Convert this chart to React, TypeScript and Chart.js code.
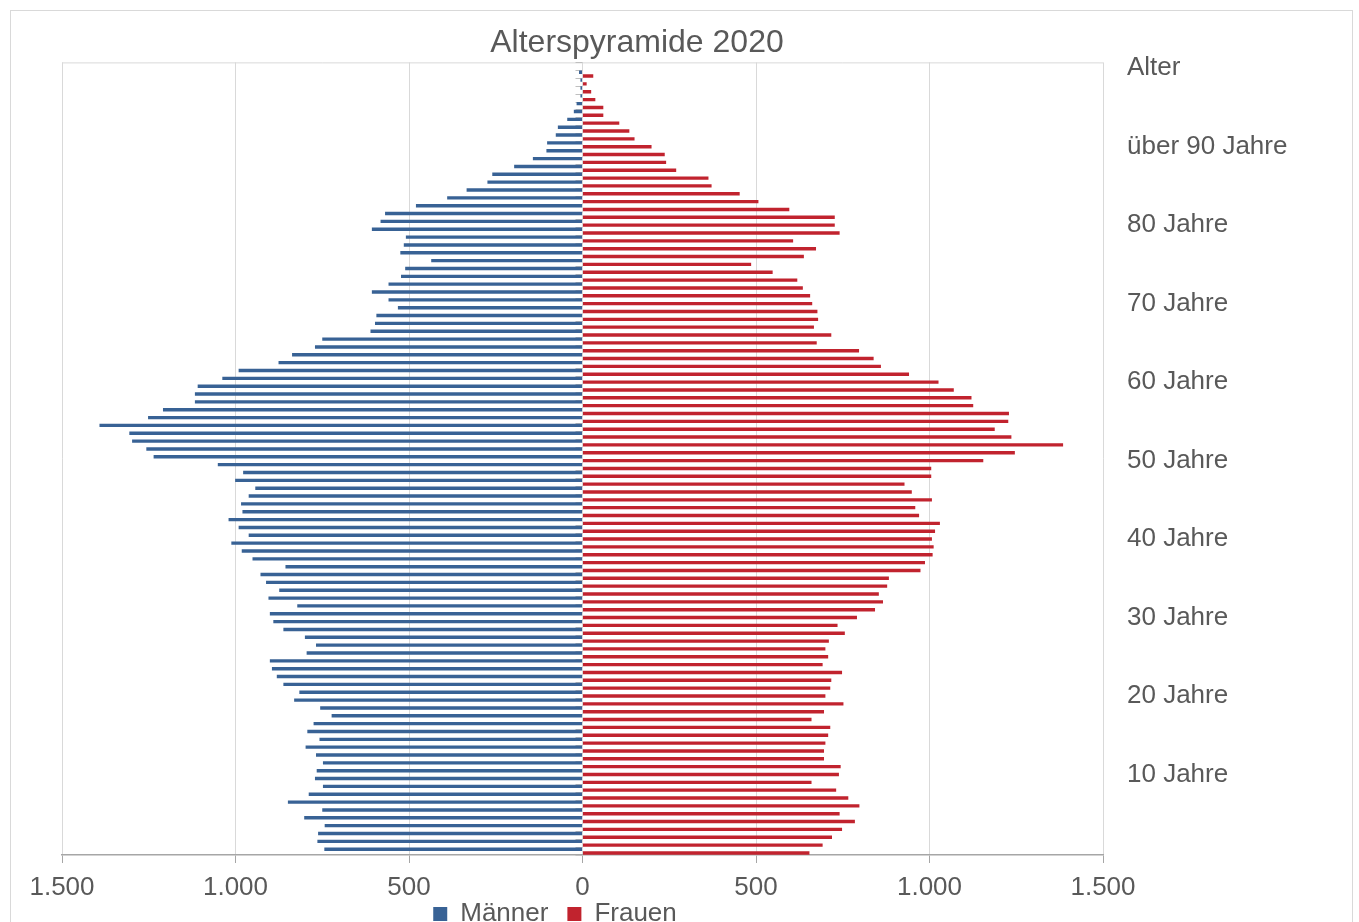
import React, { useEffect, useRef } from 'react';
import { Chart, registerables } from 'chart.js';

Chart.register(...registerables);

// Age categories 0..100
const ages: string[] = Array.from({ length: 101 }, (_, i) => String(i));

// Männer per age (0 .. 100)
const maenner: number[] = [
  744, 764, 762, 743, 802, 750, 849, 789, 748, 771,
  766, 748, 768, 798, 758, 793, 775, 723, 756, 831,
  816, 862, 881, 895, 901, 795, 768, 800, 862, 891,
  901, 822, 905, 874, 912, 928, 856, 951, 982, 1012,
  962, 991, 1020, 980, 984, 962, 943, 1001, 978, 1051,
  1236, 1257, 1298, 1306, 1392, 1252, 1209, 1117, 1117, 1109,
  1038, 991, 876, 837, 771, 750, 611, 598, 594, 532,
  559, 607, 559, 523, 511, 436, 525, 515, 509, 607,
  582, 569, 480, 390, 334, 274, 260, 197, 143, 104,
  102, 77, 71, 44, 25, 17, 6, 6, 6, 10,
  0,
];

// Frauen per age (0 .. 100)
const frauen: number[] = [
  654, 692, 719, 748, 785, 741, 798, 766, 731, 660,
  739, 744, 696, 696, 700, 708, 714, 660, 696, 752,
  700, 714, 717, 748, 692, 708, 700, 710, 756, 735,
  791, 843, 866, 854, 878, 883, 974, 987, 1009, 1012,
  1007, 1016, 1030, 970, 959, 1007, 949, 928, 1005, 1005,
  1155, 1246, 1385, 1236, 1188, 1227, 1229, 1126, 1121, 1070,
  1026, 941, 860, 839, 797, 675, 717, 667, 679, 677,
  662, 656, 635, 619, 548, 486, 638, 673, 607, 741,
  727, 727, 596, 507, 453, 372, 363, 270, 241, 237,
  199, 150, 135, 106, 60, 60, 37, 25, 12, 31,
  0,
];

// Right-hand axis labels
const yTickAges: number[] = [10, 20, 30, 40, 50, 60, 70, 80, 90, 100];
const yTickTexts: string[] = [
  '10 Jahre', '20 Jahre', '30 Jahre', '40 Jahre', '50 Jahre',
  '60 Jahre', '70 Jahre', '80 Jahre', 'über 90 Jahre', 'Alter',
];

const FONT = "'Liberation Sans', Arial, sans-serif";
const TEXT = '#595959';

function fmtDE(n: number): string {
  return String(Math.round(Math.abs(n))).replace(/\B(?=(\d{3})+(?!\d))/g, '.');
}

const extrasPlugin = {
  id: 'extras',
  afterLayout(chart: any) {
    const lg = chart.legend;
    if (lg) {
      lg.left -= 152;
      lg.right -= 152;
      lg.top += 2;
      lg.bottom += 2;
    }
    const tb = chart.titleBlock;
    if (tb) {
      tb.left -= 70;
      tb.right -= 70;
    }
    // allow the x tick labels to be drawn below the (compact) axis box
    if (chart.scales.x) chart.scales.x.bottom = chart.height;
  },
  beforeDatasetsDraw(chart: any) {
    const { ctx, chartArea, scales } = chart;
    ctx.save();
    ctx.strokeStyle = '#d9d9d9';
    ctx.lineWidth = 1;
    ctx.beginPath();
    ctx.moveTo(chartArea.left, chartArea.top + 0.5);
    ctx.lineTo(chartArea.right, chartArea.top + 0.5);
    ctx.stroke();
    const x0 = scales.x.getPixelForValue(0);
    const ys = scales.y;
    ctx.strokeStyle = '#bfbfbf';
    ctx.beginPath();
    for (let i = 0; i <= ages.length; i++) {
      const yy = Math.round(ys.getPixelForValue(i - 0.5)) + 0.5;
      ctx.moveTo(x0 - 7, yy);
      ctx.lineTo(x0, yy);
    }
    ctx.stroke();
    ctx.restore();
  },
};

export default function App() {
  const ref = useRef<HTMLCanvasElement | null>(null);

  useEffect(() => {
    if (!ref.current) return;
    const chart = new Chart(ref.current, {
      type: 'bar',
      data: {
        labels: ages,
        datasets: [
          {
            label: 'Männer',
            data: maenner.map((v) => -v),
            backgroundColor: '#386295',
            borderWidth: 0,
            categoryPercentage: 0.96,
            barPercentage: 0.9,
          },
          {
            label: 'Frauen',
            data: frauen,
            backgroundColor: '#C1232E',
            borderWidth: 0,
            categoryPercentage: 0.96,
            barPercentage: 0.9,
          },
        ],
      },
      options: {
        indexAxis: 'y',
        responsive: false,
        animation: false,
        devicePixelRatio: 1,
        layout: { padding: { left: 51, top: 0, right: 0, bottom: 0 } },
        plugins: {
          title: {
            display: true,
            text: 'Alterspyramide 2020',
            color: TEXT,
            font: { family: FONT, size: 32, weight: 'normal' },
            padding: { top: 13, bottom: 0 },
          },
          legend: {
            position: 'bottom',
            labels: {
              boxWidth: 14,
              boxHeight: 14,
              padding: 19,
              color: TEXT,
              font: { family: FONT, size: 26 },
            },
          },
          tooltip: {
            callbacks: {
              label: (c: any) => `${c.dataset.label}: ${fmtDE(c.raw)}`,
            },
          },
        },
        scales: {
          x: {
            min: -1500,
            max: 1500,
            ticks: {
              stepSize: 500,
              maxRotation: 0,
              padding: 9,
              color: TEXT,
              font: { family: FONT, size: 26 },
              callback: (v: any) => fmtDE(Number(v)),
            },
            grid: {
              color: '#d9d9d9',
              lineWidth: 1,
              drawTicks: true,
              tickLength: 8,
              tickColor: '#a6a6a6',
            },
            border: { display: true, color: '#a6a6a6', width: 1.5 },
            afterFit: (s: any) => {
              s.height = 25;
            },
          },
          y: {
            type: 'category',
            position: 'right',
            reverse: true,
            offset: true,
            grid: { display: false, drawTicks: false },
            border: { display: false },
            ticks: {
              autoSkip: false,
              padding: 24,
              labelOffset: 2,
              color: TEXT,
              font: { family: FONT, size: 26 },
              callback: (v: any) => {
                const k = yTickAges.indexOf(Number(v));
                return k >= 0 ? yTickTexts[k] : '';
              },
            },
            afterFit: (s: any) => {
              s.width = 249;
            },
          },
        },
      } as any,
      plugins: [extrasPlugin],
    });
    return () => chart.destroy();
  }, []);

  return (
    <div
      style={{
        position: 'fixed',
        left: 10,
        top: 10,
        width: 1341,
        height: 924,
        border: '1px solid #d9d9d9',
        background: '#fff',
      }}
    >
      <canvas ref={ref} width={1341} height={924} style={{ display: 'block' }} />
    </div>
  );
}
